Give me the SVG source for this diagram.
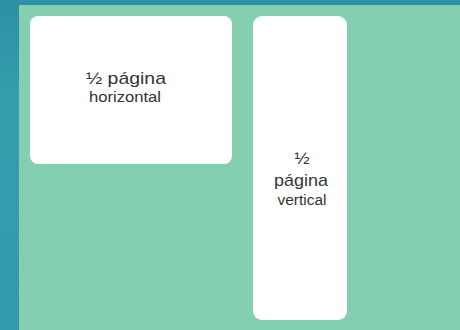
<svg xmlns="http://www.w3.org/2000/svg" width="460" height="330" viewBox="0 0 460 330">
<defs>
<style>
.box{fill:#ffffff}
.t1{font-family:"Liberation Sans",Arial,sans-serif;font-size:17px;fill:#333333;text-anchor:middle}
.t2{font-family:"Liberation Sans",Arial,sans-serif;font-size:14px;fill:#333333;text-anchor:middle}
</style>
<linearGradient id="bg" x1="0" y1="0" x2="0" y2="1">
<stop offset="0" stop-color="#2e8fa3"/>
<stop offset="0.3" stop-color="#339fad"/>
<stop offset="1" stop-color="#319aab"/>
</linearGradient>
</defs>
<rect x="0" y="0" width="460" height="330" fill="url(#bg)"/>
<rect x="19" y="5" width="441" height="325" fill="#84cfb0"/>
<g id="horizontal">
<rect class="box" x="30" y="16" width="202" height="148" rx="8"/>
<text class="t1" x="126" y="84" textLength="80" lengthAdjust="spacingAndGlyphs">½ página</text>
<text class="t2" x="125" y="102" textLength="72" lengthAdjust="spacingAndGlyphs">horizontal</text>
</g>
<g id="vertical">
<rect class="box" x="253" y="16" width="94" height="304" rx="9"/>
<text class="t1" x="302" y="164" textLength="15" lengthAdjust="spacingAndGlyphs">½</text>
<text class="t1" x="301" y="186" textLength="54" lengthAdjust="spacingAndGlyphs">página</text>
<text class="t2" x="302" y="205" textLength="49" lengthAdjust="spacingAndGlyphs">vertical</text>
</g>
<g id="connectors"></g>
</svg>
